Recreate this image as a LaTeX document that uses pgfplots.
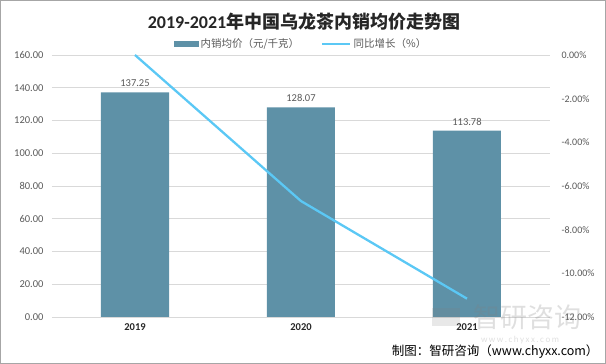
\documentclass[border=0pt]{standalone}
\usepackage{fontspec}
\setmainfont{Carlito}
\newfontfamily\cjk{Noto Sans CJK SC}
\usepackage{pgfplots}
\pgfplotsset{compat=1.18}
\definecolor{barc}{HTML}{5E91A7}
\definecolor{linec}{HTML}{5BC8F5}
\definecolor{gridc}{HTML}{D9D9D9}
\definecolor{txt}{HTML}{595959}
\begin{document}
\begin{tikzpicture}
\path (0pt,0pt) rectangle (606pt,364pt);
\begin{axis}[at={(52pt,47pt)}, anchor=south west, scale only axis,
  width=498pt, height=262pt,
  xmin=-0.5, xmax=2.5, ymin=0, ymax=160,
  ytick={0,20,...,160}, xtick={0,1,2}, xticklabels={2019,2020,2021},
  axis line style={draw=none}, major tick length=0pt,
  ymajorgrids, grid style={gridc, line width=0.8pt},
  /pgf/number format/assume math mode=true,
  yticklabel={\pgfmathprintnumber[fixed, precision=2, zerofill]{\tick}},
  y tick label style={font=\fontsize{10.5}{11}\selectfont, text=txt, xshift=-5pt},
  x tick label style={font=\bfseries\fontsize{10.5}{11}\selectfont, text=black!85, yshift=-3pt},
  legend columns=2,
  legend style={at={(0.5,1)}, anchor=center, yshift=11pt, draw=none, fill=none,
    font=\cjk\fontsize{10.5}{11}\selectfont, text=txt,
    /tikz/every even column/.append style={column sep=20pt}},
]
\addplot[ybar, bar width=68pt, fill=barc, draw=none,
  nodes near coords={\pgfmathprintnumber[fixed, precision=2, zerofill]{\pgfplotspointmeta}},
  nodes near coords style={font=\fontsize{10.5}{11}\selectfont, text=txt, yshift=2pt},
  legend image code/.code={\fill[barc] (0pt,-3pt) rectangle (25pt,3pt);}]
  coordinates {(0,137.25) (1,128.07) (2,113.78)};
\addlegendentry{内销均价（元/千克）}
\addlegendimage{legend image code/.code={\draw[linec, line width=2.5pt] (0pt,0pt) -- (28pt,0pt);}}
\addlegendentry{同比增长（\%）}
\end{axis}
\begin{axis}[at={(52pt,47pt)}, anchor=south west, scale only axis,
  width=498pt, height=262pt,
  xmin=-0.5, xmax=2.5, ymin=-12, ymax=0,
  ytick={-12,-10,...,0}, axis y line*=right, hide x axis,
  axis line style={draw=none}, major tick length=0pt,
  /pgf/number format/assume math mode=true,
  yticklabel={\pgfmathprintnumber[fixed, precision=2, zerofill]{\tick}\%},
  yticklabel style={font=\fontsize{10}{11}\selectfont, text=txt, anchor=west, xshift=8pt},
]
\addplot[linec, line width=2.3pt] coordinates {(0,0) (1,-6.69) (2,-11.16)};
\end{axis}
\node[font=\cjk\bfseries\fontsize{18}{18}\selectfont, text=black!85] at (304pt,342pt) {{\rmfamily\bfseries 2019-2021}年中国乌龙茶内销均价走势图};
% watermark
\fill[gray, opacity=0.18] (432pt,38pt) rectangle (460pt,56pt);
\node[text=gray, opacity=0.25, font=\cjk\fontsize{27}{27}\selectfont] at (527pt,47pt) {智研咨询};
\node[text=gray, opacity=0.25, font=\fontsize{9}{9}\selectfont] at (520pt,24pt) {w\,w\,w\,.\,c\,h\,y\,x\,x\,.\,c\,o\,m};
\node[anchor=east, font=\cjk\fontsize{12.5}{13}\selectfont, text=black] at (602pt,12pt) {制图：智研咨询（www.chyxx.com）};
\draw[gray!70, line width=1pt] (0.5pt,0.5pt) rectangle (605.5pt,363.5pt);
\end{tikzpicture}
\end{document}
